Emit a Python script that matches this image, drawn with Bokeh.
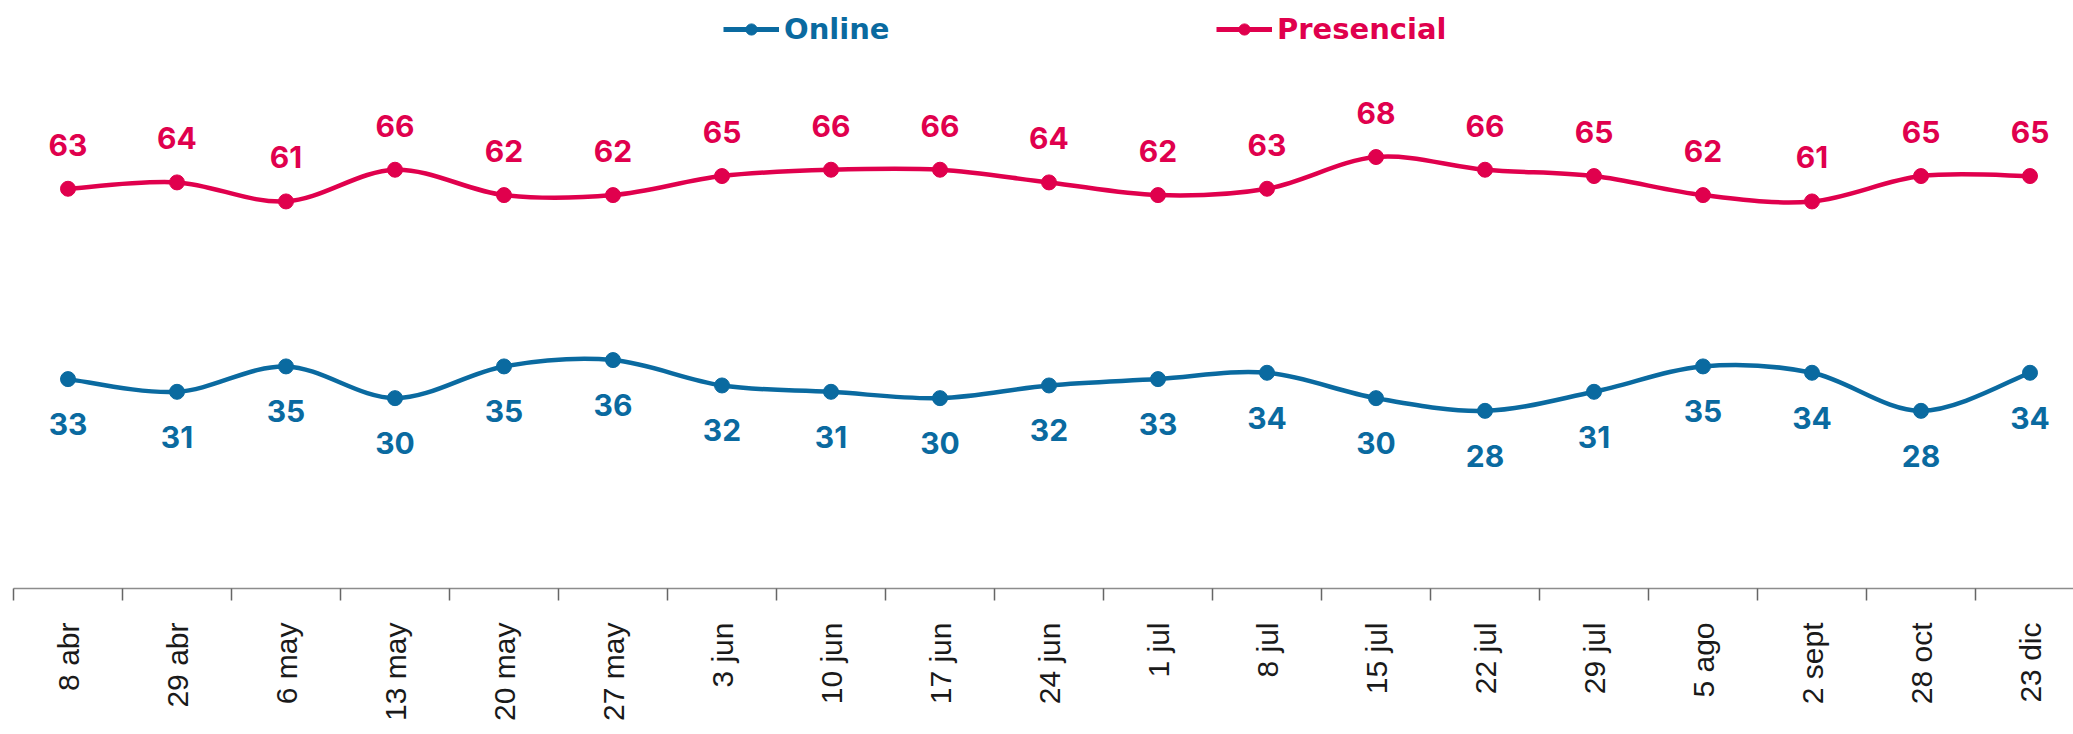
import math
from bokeh.plotting import figure
from bokeh.models import Range1d, FixedTicker, Legend, LegendItem, ColumnDataSource
from bokeh.core.properties import value
from bokeh.embed import file_html
from bokeh.resources import INLINE

dates = ["8 abr", "29 abr", "6 may", "13 may", "20 may", "27 may", "3 jun", "10 jun",
         "17 jun", "24 jun", "1 jul", "8 jul", "15 jul", "22 jul", "29 jul", "5 ago",
         "2 sept", "28 oct", "23 dic"]
presencial = [63, 64, 61, 66, 62, 62, 65, 66, 66, 64, 62, 63, 68, 66, 65, 62, 61, 65, 65]
online = [33, 31, 35, 30, 35, 36, 32, 31, 30, 32, 33, 34, 30, 28, 31, 35, 34, 28, 34]

BLUE = "#0a6aa0"
RED = "#e0004d"

n = len(dates)
xs = list(range(n))

W, H = 2073, 723
BORDER_L = 13
CAT_W = 109.0
x_end = -0.5 + (W - BORDER_L) / CAT_W

p = figure(width=W, height=H, output_backend="svg", toolbar_location=None,
           x_range=Range1d(-0.5, x_end), y_range=Range1d(0, 92.67),
           y_axis_location=None, min_border_left=BORDER_L, min_border_right=0,
           min_border_top=0, min_border_bottom=0)
p.outline_line_color = None
p.xgrid.visible = False
p.ygrid.visible = False

ax = p.xaxis[0]
ax.ticker = FixedTicker(ticks=xs, minor_ticks=[i - 0.5 for i in range(n + 1)])
ax.major_label_overrides = {i: d for i, d in enumerate(dates)}
ax.major_label_orientation = math.pi / 2
ax.major_tick_out = 0
ax.major_tick_in = 0
ax.minor_tick_out = 12
ax.minor_tick_in = 0
ax.minor_tick_line_color = "#666666"
ax.minor_tick_line_width = 1.5
ax.axis_line_color = "#8c8c8c"
ax.axis_line_width = 1.5
ax.major_label_standoff = 22
ax.major_label_text_font = "Liberation Sans"
ax.major_label_text_font_size = "30px"
ax.major_label_text_color = "#1a1a1a"


def bezier_source(vals):
    x0, y0, x1, y1, cx0, cy0, cx1, cy1 = [], [], [], [], [], [], [], []
    m = len(vals)
    for i in range(m - 1):
        ip = max(i - 1, 0)
        inn = min(i + 2, m - 1)
        x0.append(xs[i]); y0.append(vals[i])
        x1.append(xs[i + 1]); y1.append(vals[i + 1])
        cx0.append(xs[i] + (xs[i + 1] - xs[ip]) / 6.0)
        cy0.append(vals[i] + (vals[i + 1] - vals[ip]) / 6.0)
        cx1.append(xs[i + 1] - (xs[inn] - xs[i]) / 6.0)
        cy1.append(vals[i + 1] - (vals[inn] - vals[i]) / 6.0)
    return ColumnDataSource(dict(x0=x0, y0=y0, x1=x1, y1=y1,
                                 cx0=cx0, cy0=cy0, cx1=cx1, cy1=cy1))


def series(vals, color, label_offset):
    # legend swatch renderers: one point of the series, hidden under the real marker
    lg_line = p.line(x=xs[:1], y=vals[:1], line_color=color, line_width=5)
    lg_dot = p.scatter(x=xs[:1], y=vals[:1], size=11, fill_color=color, line_color=color)
    p.bezier(x0="x0", y0="y0", x1="x1", y1="y1", cx0="cx0", cy0="cy0",
             cx1="cx1", cy1="cy1", source=bezier_source(vals),
             line_color=color, line_width=4.5)
    p.scatter(xs, vals, size=15, fill_color=color, line_color=color)
    p.text(xs, vals, text=[str(v) for v in vals], text_align="center",
           text_baseline="alphabetic", y_offset=label_offset,
           text_font=value("Inter"), text_font_style="bold",
           text_font_size="30px", text_color=color)
    return [lg_line, lg_dot]


leg_p = series(presencial, RED, -44)
leg_o = series(online, BLUE, 45)


def make_legend(label, rends, color, x):
    leg = Legend(items=[LegendItem(label=label, renderers=rends)], location=(x, 542),
                 orientation="horizontal", label_text_color=color,
                 label_text_font="DejaVu Sans", label_text_font_style="bold",
                 label_text_font_size="29px", border_line_color=None,
                 background_fill_alpha=0, padding=0, margin=0, glyph_width=56,
                 glyph_height=28, label_standoff=5)
    p.add_layout(leg)


make_legend("Online", leg_o, BLUE, 710)
make_legend("Presencial", leg_p, RED, 1203)

open("out.html", "w").write(file_html(p, INLINE))
